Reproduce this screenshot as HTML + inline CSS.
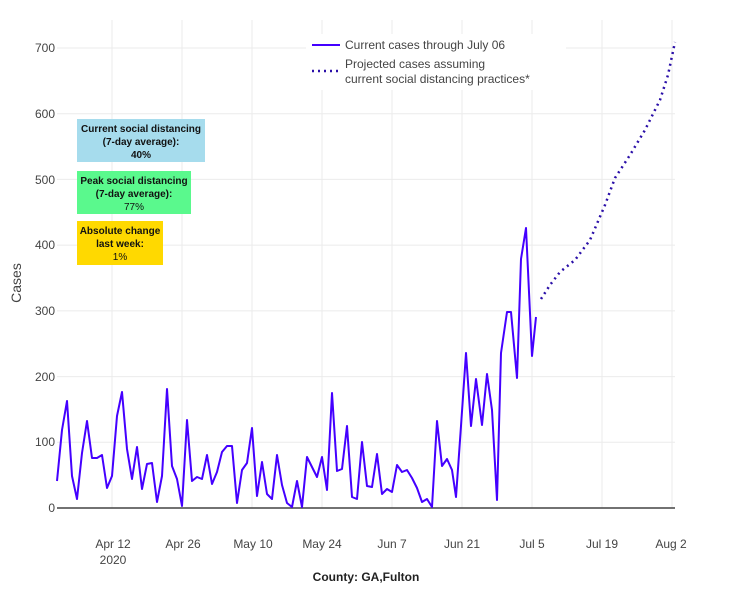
<!DOCTYPE html>
<html><head><meta charset="utf-8"><style>
body{margin:0;background:#fff;}
svg text{font-family:"Liberation Sans",sans-serif;}
</style></head><body>
<svg width="730" height="589" xmlns="http://www.w3.org/2000/svg">
<g stroke="#ebebeb" stroke-width="1">
<line x1="57" x2="675" y1="442.3" y2="442.3"/><line x1="57" x2="675" y1="376.6" y2="376.6"/>
<line x1="57" x2="675" y1="310.9" y2="310.9"/><line x1="57" x2="675" y1="245.1" y2="245.1"/>
<line x1="57" x2="675" y1="179.4" y2="179.4"/><line x1="57" x2="675" y1="113.7" y2="113.7"/>
<line x1="57" x2="675" y1="48" y2="48"/>
<line x1="112" x2="112" y1="20" y2="508"/><line x1="182" x2="182" y1="20" y2="508"/>
<line x1="252" x2="252" y1="20" y2="508"/><line x1="322" x2="322" y1="20" y2="508"/>
<line x1="392" x2="392" y1="20" y2="508"/><line x1="462" x2="462" y1="20" y2="508"/>
<line x1="532" x2="532" y1="20" y2="508"/><line x1="602" x2="602" y1="20" y2="508"/>
<line x1="672" x2="672" y1="20" y2="508"/>
</g>
<line x1="57" x2="675" y1="508" y2="508" stroke="#444" stroke-width="1.5"/>
<g font-size="12" fill="#444" text-anchor="end">
<text x="55" y="512">0</text><text x="55" y="446">100</text><text x="55" y="381">200</text>
<text x="55" y="315">300</text><text x="55" y="249">400</text><text x="55" y="184">500</text>
<text x="55" y="118">600</text><text x="55" y="52">700</text>
</g>
<g font-size="12" fill="#444" text-anchor="middle">
<text x="113" y="548">Apr 12</text><text x="113" y="564">2020</text>
<text x="183" y="548">Apr 26</text><text x="253" y="548">May 10</text>
<text x="322" y="548">May 24</text><text x="392" y="548">Jun 7</text>
<text x="462" y="548">Jun 21</text><text x="532" y="548">Jul 5</text>
<text x="602" y="548">Jul 19</text><text x="671" y="548">Aug 2</text>
</g>
<text x="21" y="283" font-size="14" fill="#444" text-anchor="middle" transform="rotate(-90 21 283)">Cases</text>
<text x="366" y="581" font-size="12" font-weight="bold" fill="#222" text-anchor="middle">County: GA,Fulton</text>
<polyline fill="none" stroke="#4400ff" stroke-width="2" stroke-linejoin="round" points="57,481 62,430 67,401 72,476 77,499 82,453 87,421 92,458 97,458 102,455 107,488 112,476 117,416 122,392 127,449 132,479 137,447 142,489 147,464 152,463 157,502 162,476 167,389 172,466 177,479 182,506 187,420 192,481 197,477 202,479 207,455 212,484 217,472 222,452 227,446 232,446 237,503 242,470 247,463 252,428 257,496 262,462 267,494 272,499 277,455 282,485 287,503 292,507 297,481 302,507 307,457 312,467 317,477 322,457 327,490 332,393 337,471 342,469 347,426 352,497 357,499 362,442 367,486 372,487 377,454 382,494 387,489 392,492 397,465 402,472 407,470 412,478 417,488 422,502 427,499 432,507 437,421 442,466 447,459 452,470 456,497 461,426 466,353 471,426 476,379 482,425 487,374 492,410 497,500 501,353 507,312 511,312 517,378 521,259 526,228 532,356 536,317"/>
<polyline fill="none" stroke="#2a0fa8" stroke-width="2.5" stroke-dasharray="2,4" points="541,299 550,285 560,272 575,260 590,240 605,205 615,178 630,155 645,130 660,100 668,75 675,42"/>
<rect x="306" y="34" width="260" height="56" fill="#fff"/>
<line x1="312" x2="340" y1="45" y2="45" stroke="#4400ff" stroke-width="2"/>
<line x1="312" x2="340" y1="71" y2="71" stroke="#2a0fa8" stroke-width="2.5" stroke-dasharray="2,4"/>
<g font-size="12" fill="#444">
<text x="345" y="49">Current cases through July 06</text>
<text x="345" y="68">Projected cases assuming</text>
<text x="345" y="83">current social distancing practices*</text>
</g>
<rect x="77" y="119" width="128" height="43" fill="#a6dced"/>
<rect x="77" y="171" width="114" height="43" fill="#5af98d"/>
<rect x="77" y="221" width="86" height="44" fill="#ffd900"/>
<g font-size="10" fill="#111" text-anchor="middle" font-weight="bold">
<text x="141" y="132">Current social distancing</text>
<text x="141" y="145">(7-day average):</text>
<text x="141" y="158">40%</text>
<text x="134" y="184">Peak social distancing</text>
<text x="134" y="197">(7-day average):</text>
<text x="134" y="210" font-weight="normal">77%</text>
<text x="120" y="234">Absolute change</text>
<text x="120" y="247">last week:</text>
<text x="120" y="260" font-weight="normal">1%</text>
</g>
</svg>
</body></html>
